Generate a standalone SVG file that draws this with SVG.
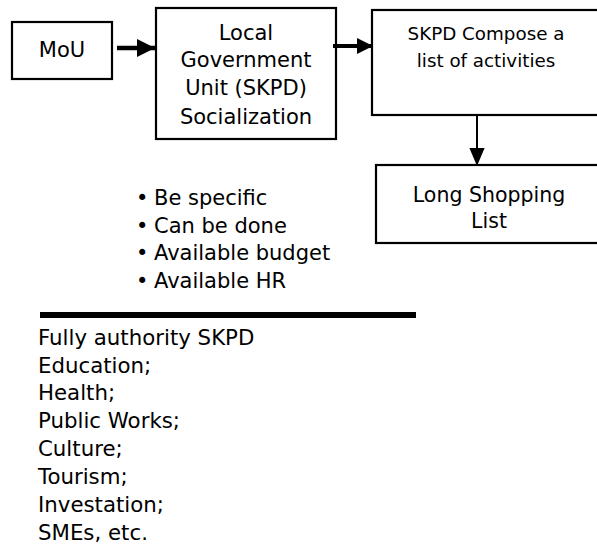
<svg xmlns="http://www.w3.org/2000/svg" width="597" height="546" viewBox="0 0 597 546">
<style>
  .box { fill: #fff; stroke: #000; stroke-width: 2.2; }
  .t { font-family: "DejaVu Sans", "Liberation Sans", sans-serif; font-size: 21px; fill: #000; }
  .c { text-anchor: middle; }
  .conn { stroke: #000; fill: none; }
</style>
<defs>
  <marker id="ah" markerWidth="4" markerHeight="4" refX="4" refY="2" orient="auto" markerUnits="strokeWidth">
    <path d="M0,0 L4,2 L0,4 Z" fill="#000"/>
  </marker>
  <marker id="ah2" markerWidth="9" markerHeight="7.6" refX="9" refY="3.8" orient="auto" markerUnits="strokeWidth">
    <path d="M0,0 L9,3.8 L0,7.6 Z" fill="#000"/>
  </marker>
</defs>
<rect width="597" height="546" fill="#fff"/>
<g id="mou">
  <rect class="box" x="12" y="22" width="100" height="57"/>
  <text class="t c" x="62" y="57">MoU</text>
</g>
<g id="socialization">
  <rect class="box" x="156" y="8" width="180" height="131"/>
  <text class="t c" x="246" y="40">Local</text>
  <text class="t c" x="246" y="67">Government</text>
  <text class="t c" x="246" y="95">Unit (SKPD)</text>
  <text class="t c" x="246" y="124">Socialization</text>
</g>
<g id="compose">
  <rect class="box" x="372" y="10" width="232" height="105"/>
  <text class="t c" x="486" y="40" style="font-size:18.3px">SKPD Compose a</text>
  <text class="t c" x="486" y="67" style="font-size:18.3px">list of activities</text>
</g>
<g id="shopping">
  <rect class="box" x="376" y="165" width="228" height="78"/>
  <text class="t c" x="489" y="202" style="font-size:20.5px">Long Shopping</text>
  <text class="t c" x="489" y="228" style="font-size:20.5px">List</text>
</g>
<g id="criteria">
  <text class="t" x="136" y="205">•</text>
  <text class="t" x="154" y="205">Be specific</text>
  <text class="t" x="136" y="233">•</text>
  <text class="t" x="154" y="233">Can be done</text>
  <text class="t" x="136" y="260">•</text>
  <text class="t" x="154" y="260">Available budget</text>
  <text class="t" x="136" y="288">•</text>
  <text class="t" x="154" y="288">Available HR</text>
</g>
<g id="authority" style="font-size:21.3px">
  <line x1="40" y1="315" x2="416" y2="315" stroke="#000" stroke-width="6"/>
  <text class="t" x="38" y="345" style="font-size:21.3px">Fully authority SKPD</text>
  <text class="t" x="38" y="373" style="font-size:21.3px">Education;</text>
  <text class="t" x="38" y="400" style="font-size:21.3px">Health;</text>
  <text class="t" x="38" y="428" style="font-size:21.3px">Public Works;</text>
  <text class="t" x="38" y="456" style="font-size:21.3px">Culture;</text>
  <text class="t" x="38" y="484" style="font-size:21.3px">Tourism;</text>
  <text class="t" x="38" y="512" style="font-size:21.3px">Investation;</text>
  <text class="t" x="38" y="540" style="font-size:21.3px">SMEs, etc.</text>
</g>
<g id="connectors">
  <line class="conn" x1="117" y1="48" x2="155" y2="48" stroke-width="4.5" marker-end="url(#ah)"/>
  <line class="conn" x1="333" y1="46" x2="373" y2="46" stroke-width="4" marker-end="url(#ah)"/>
  <line class="conn" x1="477" y1="115" x2="477" y2="166" stroke-width="2" marker-end="url(#ah2)"/>
</g>
</svg>
